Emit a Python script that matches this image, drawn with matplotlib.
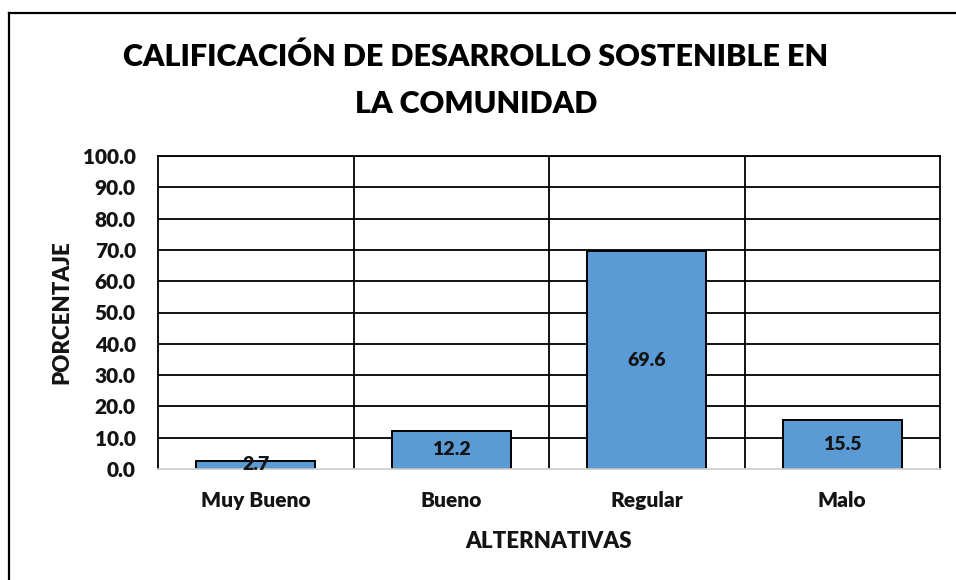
import matplotlib
matplotlib.use("Agg")
import matplotlib.pyplot as plt
from matplotlib.lines import Line2D
import numpy as np

# chart data
categories = ["Muy Bueno", "Bueno", "Regular", "Malo"]
percentages = [2.7, 12.2, 69.6, 15.5]
y_ticks = [0, 10, 20, 30, 40, 50, 60, 70, 80, 90, 100]

title = "CALIFICACIÓN DE DESARROLLO SOSTENIBLE EN\nLA COMUNIDAD"
x_label = "ALTERNATIVAS"
y_label = "PORCENTAJE"

plt.rcParams["font.family"] = ["Lato", "DejaVu Sans"]
WT = "heavy"
INK = "#141414"

W, H = 956, 580
fig = plt.figure(figsize=(W / 100, H / 100), dpi=100)
ax = fig.add_axes([158 / W, 1 - 469 / H, 782 / W, 313 / H])

x = np.arange(len(categories))

# gridlines (horizontal every 10, vertical between categories)
for yv in y_ticks[1:]:
    ax.axhline(yv, color="black", lw=1.3, zorder=1)
for xv in np.arange(len(categories) - 1) + 0.5:
    ax.axvline(xv, color="black", lw=1.3, zorder=1)

bars = ax.bar(x, percentages, width=0.61, color="#5B9BD5",
              edgecolor="black", linewidth=1.4, zorder=2)
for b, v in zip(bars, percentages):
    ax.text(b.get_x() + b.get_width() / 2, v / 2, f"{v:.1f}",
            ha="center", va="center", fontsize=14, fontweight=WT,
            color=INK, zorder=3)

ax.set_xlim(-0.5, len(categories) - 0.5)
ax.set_ylim(0, 100)
ax.set_yticks(y_ticks)
ax.set_yticklabels([f"{v:.1f}" for v in y_ticks])
ax.set_xticks(x)
ax.set_xticklabels(categories)
ax.tick_params(axis="y", length=0, pad=16, labelsize=15, labelcolor=INK)
ax.tick_params(axis="x", length=0, pad=16, labelsize=15, labelcolor=INK)
for lab in ax.get_xticklabels() + ax.get_yticklabels():
    lab.set_fontweight(WT)

for side in ["left", "top", "right"]:
    ax.spines[side].set_color("black")
    ax.spines[side].set_linewidth(1.3)
ax.spines["bottom"].set_color("#d0d0d0")
ax.spines["bottom"].set_linewidth(1.3)

fig.text(476 / W, 1 - 80.5 / H, title, ha="center", va="center",
         fontsize=22, fontweight=WT, color="black", linespacing=1.82)
fig.text(549 / W, 1 - 541 / H, x_label, ha="center", va="center",
         fontsize=16, fontweight=WT, color=INK)
fig.text(62 / W, 1 - 312 / H, y_label, ha="center", va="center",
         rotation=90, fontsize=16, fontweight=WT, color=INK)

# outer chart frame (top and left edges visible)
fig.add_artist(Line2D([9 / W, 1], [1 - 13 / H, 1 - 13 / H],
                      transform=fig.transFigure, color="black", lw=1.6))
fig.add_artist(Line2D([9 / W, 9 / W], [0, 1 - 13 / H],
                      transform=fig.transFigure, color="black", lw=1.6))

fig.savefig("out.png", dpi=100)
